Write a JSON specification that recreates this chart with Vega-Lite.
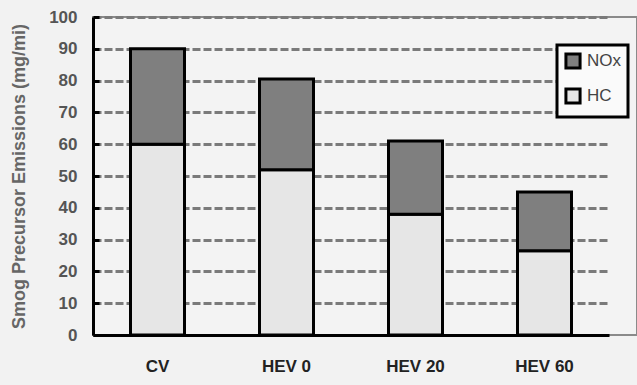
{
  "$schema": "https://vega.github.io/schema/vega-lite/v6.json",
  "autosize": "none",
  "width": 544,
  "height": 318,
  "padding": {"left": 93, "top": 17, "right": 0, "bottom": 50},
  "background": "#f2f2f2",
  "config": {
    "view": {"stroke": "#8a8a8a", "strokeWidth": 2, "fill": "#f3f3f3"},
    "font": "Liberation Sans",
    "legend": {"strokeColor": "#000000", "strokeWidth": 3, "fillColor": "#fafafa"}
  },
  "data": {
    "values": [
      {"vehicle": "CV", "pollutant": "HC", "value": 60, "order": 1},
      {"vehicle": "CV", "pollutant": "NOx", "value": 30, "order": 2},
      {"vehicle": "HEV 0", "pollutant": "HC", "value": 52, "order": 1},
      {"vehicle": "HEV 0", "pollutant": "NOx", "value": 28.5, "order": 2},
      {"vehicle": "HEV 20", "pollutant": "HC", "value": 38, "order": 1},
      {"vehicle": "HEV 20", "pollutant": "NOx", "value": 23, "order": 2},
      {"vehicle": "HEV 60", "pollutant": "HC", "value": 26.5, "order": 1},
      {"vehicle": "HEV 60", "pollutant": "NOx", "value": 18.5, "order": 2}
    ]
  },
  "mark": {"type": "bar", "size": 54, "stroke": "#000000", "strokeWidth": 3},
  "encoding": {
    "x": {
      "field": "vehicle",
      "type": "nominal",
      "sort": ["CV", "HEV 0", "HEV 20", "HEV 60"],
      "scale": {"range": [0, 516], "paddingInner": 0, "paddingOuter": 0},
      "axis": {
        "title": null,
        "labelAngle": 0,
        "labelFontSize": 17,
        "labelFontWeight": "bold",
        "labelColor": "#222222",
        "labelPadding": 23,
        "ticks": false,
        "domainColor": "#000000",
        "domainWidth": 3
      }
    },
    "y": {
      "field": "value",
      "type": "quantitative",
      "stack": "zero",
      "scale": {"domain": [0, 100], "nice": false},
      "axis": {
        "title": "Smog Precursor Emissions (mg/mi)",
        "titleFontSize": 18,
        "titleFontWeight": "bold",
        "titleColor": "#666666",
        "titlePadding": 20,
        "values": [0, 10, 20, 30, 40, 50, 60, 70, 80, 90, 100],
        "labelFontSize": 17,
        "labelFontWeight": "bold",
        "labelColor": "#555555",
        "labelPadding": 22,
        "tickSize": -6,
        "tickColor": "#000000",
        "tickWidth": 3,
        "domainColor": "#000000",
        "domainWidth": 3,
        "grid": true,
        "gridColor": "#7a7a7a",
        "gridWidth": 3,
        "gridDash": [8, 3]
      }
    },
    "color": {
      "field": "pollutant",
      "type": "nominal",
      "sort": ["NOx", "HC"],
      "scale": {"domain": ["NOx", "HC"], "range": ["#7f7f7f", "#e6e6e6"]},
      "legend": {
        "title": null,
        "orient": "none",
        "legendX": 464,
        "legendY": 28,
        "symbolType": "square",
        "symbolSize": 200,
        "symbolStrokeColor": "#000000",
        "symbolStrokeWidth": 3,
        "labelFontSize": 17,
        "labelColor": "#444444",
        "labelOffset": 5,
        "rowPadding": 7,
        "padding": 7
      }
    },
    "order": {"field": "order", "type": "quantitative"}
  }
}
